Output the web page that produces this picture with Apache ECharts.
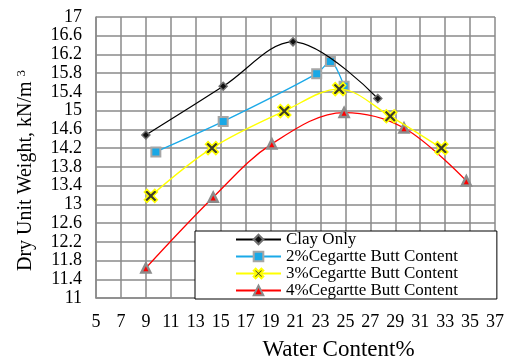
<!DOCTYPE html>
<html>
<head>
<meta charset="utf-8">
<script src="https://cdn.jsdelivr.net/npm/echarts@6/dist/echarts.min.js"></script>
<style>
  html, body { margin: 0; padding: 0; background: #fff; }
  #chart { width: 505px; height: 360px; }
</style>
</head>
<body>
<div id="chart"></div>
<script>
// Compaction curves: water content (%) vs dry unit weight (kN/m3)
const seriesNames = [
  'Clay Only',
  '2%Cegartte Butt Content',
  '3%Cegartte Butt Content',
  '4%Cegartte Butt Content'
];

const clayX = [9.0, 15.2, 20.8, 27.6];
const clayY = [14.48, 15.52, 16.47, 15.26];

const butt2X = [9.8, 15.2, 22.7, 23.8, 24.9];
const butt2Y = [14.12, 14.77, 15.79, 16.05, 15.52];

const butt3X = [9.4, 14.3, 20.1, 24.5, 28.6, 32.7];
const butt3Y = [13.18, 14.20, 14.99, 15.46, 14.88, 14.20];

const butt4X = [9.0, 14.4, 19.1, 24.9, 29.7, 34.7];
const butt4Y = [11.64, 13.15, 14.29, 14.96, 14.63, 13.50];

const xTicks = [5, 7, 9, 11, 13, 15, 17, 19, 21, 23, 25, 27, 29, 31, 33, 35, 37];
const yTicks = [11, 11.4, 11.8, 12.2, 12.6, 13, 13.4, 13.8, 14.2, 14.6, 15, 15.4, 15.8, 16.2, 16.6, 17];

const X_MIN = 5, X_MAX = 37, X_STEP = 2;
const Y_MIN = 11, Y_MAX = 17, Y_STEP = 0.4;

const pairs = (xs, ys) => xs.map((x, i) => [x, ys[i]]);

const FONT = "'Liberation Serif', 'Times New Roman', serif";
const GRID_COLOR = '#8a8a8a';
const gridLine = { show: true, lineStyle: { color: GRID_COLOR, width: 1.5 } };

// X-shaped marker outline
const crossPath = 'path://M0,2 L2,0 L5,3 L8,0 L10,2 L7,5 L10,8 L8,10 L5,7 L2,10 L0,8 L3,5 Z';

const chart = echarts.init(document.getElementById('chart'));

chart.setOption({
  animation: false,
  backgroundColor: '#fff',
  grid: { left: 96, right: 10, top: 17, bottom: 62, outerBoundsMode: 'none', containLabel: false },
  xAxis: [
    {
      // data axis: labels at odd values
      type: 'value',
      min: X_MIN,
      max: X_MAX,
      name: 'Water Content%',
      nameLocation: 'middle',
      nameGap: 40,
      nameTextStyle: { fontFamily: FONT, fontSize: 23, color: '#000', padding: [0, 0, 0, 86] },
      axisLine: { show: false },
      axisTick: { show: false, customValues: xTicks },
      axisLabel: { customValues: xTicks, fontFamily: FONT, fontSize: 18, color: '#000', margin: 15 },
      splitLine: { show: false }
    },
    {
      // offset axis that carries the vertical grid lines (one every 2 units)
      type: 'value',
      position: 'bottom',
      min: 0,
      max: X_MAX - X_MIN,
      interval: X_STEP,
      axisLine: { show: true, lineStyle: { color: GRID_COLOR, width: 1.5 } },
      axisTick: { show: false },
      axisLabel: { show: false },
      splitLine: gridLine
    }
  ],
  yAxis: [
    {
      type: 'value',
      min: Y_MIN,
      max: Y_MAX,
      name: 'Dry Unit Weight, kN/m {sup|3}',
      nameLocation: 'middle',
      nameGap: 60,
      nameRotate: 90,
      nameTextStyle: {
        fontFamily: FONT, fontSize: 20, color: '#000', padding: [0, 26, 0, 0],
        rich: { sup: { fontFamily: FONT, fontSize: 13, color: '#000', verticalAlign: 'top', padding: [0, 0, 8, 0] } }
      },
      axisLine: { show: false },
      axisTick: { show: false, customValues: yTicks },
      axisLabel: { customValues: yTicks, fontFamily: FONT, fontSize: 18, color: '#000', margin: 14 },
      splitLine: { show: false }
    },
    {
      // offset axis that carries the horizontal grid lines (one every 0.4)
      type: 'value',
      position: 'left',
      min: 0,
      max: Y_MAX - Y_MIN,
      interval: Y_STEP,
      axisLine: { show: true, lineStyle: { color: GRID_COLOR, width: 1.5 } },
      axisTick: { show: false },
      axisLabel: { show: false },
      splitLine: gridLine
    }
  ],
  legend: {
    orient: 'vertical',
    left: 195,
    top: 231,
    data: seriesNames,
    backgroundColor: '#fff',
    borderColor: '#000',
    borderWidth: 1,
    padding: [0, 39, 0, 40],
    itemWidth: 45,
    itemHeight: 12,
    itemGap: 0,
    textStyle: { fontFamily: FONT, fontSize: 17, lineHeight: 16.7, color: '#000' }
  },
  series: [
    {
      name: seriesNames[0],
      type: 'line',
      smooth: 0.35,
      data: pairs(clayX, clayY),
      symbol: 'diamond',
      symbolSize: 8,
      lineStyle: { color: '#000', width: 1.2 },
      itemStyle: { color: '#111', borderColor: '#707070', borderWidth: 1.5 },
      z: 4
    },
    {
      name: seriesNames[1],
      type: 'line',
      smooth: 0.3,
      data: pairs(butt2X, butt2Y),
      symbol: 'rect',
      symbolSize: 9,
      lineStyle: { color: '#1aa9e8', width: 1.3 },
      itemStyle: { color: '#19a8e6', borderColor: '#a6a6a6', borderWidth: 2 },
      z: 3
    },
    {
      name: seriesNames[2],
      type: 'line',
      smooth: 0.35,
      data: pairs(butt3X, butt3Y),
      symbol: crossPath,
      symbolSize: 13,
      lineStyle: { color: '#ffff00', width: 1.4 },
      itemStyle: { color: '#3c3c2a', borderColor: '#ffff00', borderWidth: 1.5 },
      z: 5
    },
    {
      name: seriesNames[3],
      type: 'line',
      smooth: 0.35,
      data: pairs(butt4X, butt4Y),
      symbol: 'triangle',
      symbolSize: 9,
      lineStyle: { color: '#ff0000', width: 1.3 },
      itemStyle: { color: '#ff0000', borderColor: '#8c8c8c', borderWidth: 2.5 },
      z: 2
    }
  ]
});
</script>
</body>
</html>
